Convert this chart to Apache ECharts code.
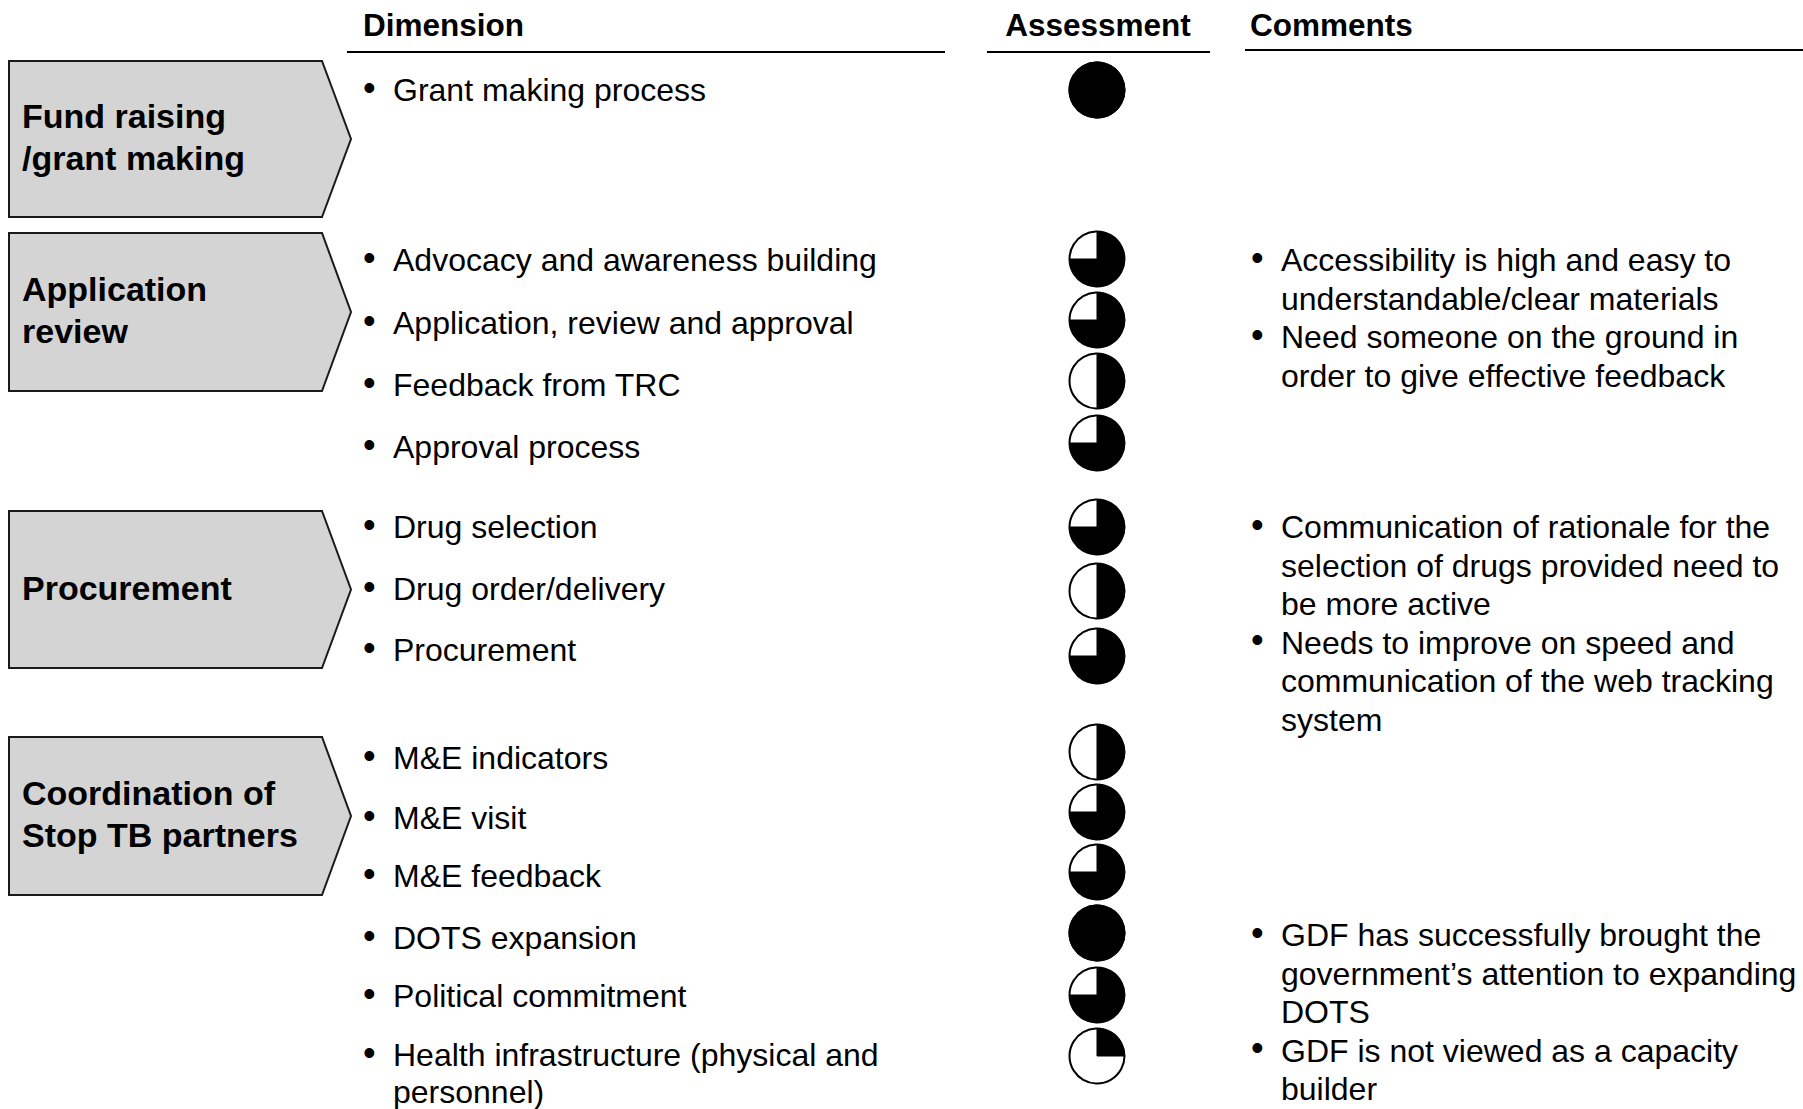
<!DOCTYPE html>
<html><head><meta charset="utf-8">
<script src="https://cdn.jsdelivr.net/npm/echarts@6/dist/echarts.min.js"></script>
<style>html,body{margin:0;padding:0;background:#fff}#c{width:1803px;height:1109px}</style>
</head><body><div id="c"></div>
<script>
// ---------- DATA ----------
const headers = ['Dimension', 'Assessment', 'Comments'];
const groups = ['Fund raising\n/grant making', 'Application\nreview', 'Procurement', 'Coordination of\nStop TB partners'];
const dimensions = [
  'Grant making process',
  'Advocacy and awareness building',
  'Application, review and approval',
  'Feedback from TRC',
  'Approval process',
  'Drug selection',
  'Drug order/delivery',
  'Procurement',
  'M&E indicators',
  'M&E visit',
  'M&E feedback',
  'DOTS expansion',
  'Political commitment',
  'Health infrastructure (physical and\npersonnel)'
];
// Harvey ball fill, in quarters (0..4)
const assessment = [4, 3, 3, 2, 3, 3, 2, 3, 2, 3, 3, 4, 3, 1];
const commentsA = ['Accessibility is high and easy to\nunderstandable/clear materials', 'Need someone on the ground in\norder to give effective feedback'];
const commentsB = ['Communication of rationale for the\nselection of drugs provided need to\nbe more active', 'Needs to improve on speed and\ncommunication of the web tracking\nsystem'];
const commentsC = ['GDF has successfully brought the\ngovernment\u2019s attention to expanding\nDOTS', 'GDF is not viewed as a capacity\nbuilder'];
const commentGroups = [commentsA, commentsB, commentsC];

// ---------- LAYOUT ----------
const W = 1803, H = 1109;
const FONT = '"Liberation Sans", Arial, Helvetica, sans-serif';
const rowY = [90, 260, 323, 385, 447, 527, 589, 650, 758, 818, 876, 938, 996, 1055];
const ballY = [90, 259, 320, 381, 443, 527, 591, 656, 752, 812, 872, 933, 995, 1056];
const boxTB = [[61, 217], [233, 391], [511, 668], [737, 895]];
const box = {x0: 9, x1: 322, tip: 351, labelX: 22};
const dimBulletX = 363, dimTextX = 393;
const ballX = 1097, ballR = 27.5;
const comBulletX = 1251, comTextX = 1281, comLH = 38.5;
const commentStartY = [260, 527, 935];

const chart = echarts.init(document.getElementById('c'), null, {renderer: 'svg', width: W, height: H});

const boxData = groups.map((g, i) => [box.x0, boxTB[i][0], box.x1, boxTB[i][1], box.tip, i]);
const dimData = dimensions.map((d, i) => [dimTextX, rowY[i], i]);
const ballData = assessment.map((v, i) => [ballX, ballY[i], v]);
const comData = [];
commentGroups.forEach((grp, gi) => {
  let line = 0;
  grp.forEach(p => {
    comData.push([comTextX, commentStartY[gi] + line * comLH, p]);
    line += p.split('\n').length;
  });
});

const bullet = (x, y, lh) => ({type: 'text', x: x, y: y - lh / 2 - 3, style: {text: '\u2022', font: '36px ' + FONT, fill: '#000', align: 'left', verticalAlign: 'top', lineHeight: lh}});

chart.setOption({
  animation: false,
  grid: {left: 0, right: 0, top: 0, bottom: 0},
  xAxis: {type: 'value', min: 0, max: W, show: false},
  yAxis: {type: 'value', min: 0, max: H, inverse: true, show: false},
  series: [
    {
      type: 'custom', coordinateSystem: 'cartesian2d', silent: true,
      data: [[363, 25, 0], [1098, 25, 1], [1250, 25, 2]],
      renderItem: (params, api) => {
        const i = api.value(2);
        const p = api.coord([api.value(0), api.value(1)]);
        return {type: 'text', x: p[0], y: p[1], style: {text: headers[i], font: 'bold 31.5px ' + FONT, fill: '#000', align: i === 1 ? 'center' : 'left', verticalAlign: 'middle'}};
      }
    },
    {
      type: 'custom', coordinateSystem: 'cartesian2d', silent: true,
      data: [[347, 52, 945], [987, 52, 1210], [1245, 50, 1803]],
      renderItem: (params, api) => {
        const a = api.coord([api.value(0), api.value(1)]);
        const b = api.coord([api.value(2), api.value(1)]);
        return {type: 'line', shape: {x1: a[0], y1: a[1], x2: b[0], y2: b[1]}, style: {stroke: '#000', lineWidth: 2}};
      }
    },
    {
      type: 'custom', coordinateSystem: 'cartesian2d', silent: true,
      data: boxData,
      renderItem: (params, api) => {
        const tl = api.coord([api.value(0), api.value(1)]);
        const br = api.coord([api.value(2), api.value(3)]);
        const tip = api.coord([api.value(4), (api.value(1) + api.value(3)) / 2]);
        const i = api.value(5);
        return {type: 'group', children: [
          {type: 'polygon', shape: {points: [[tl[0], tl[1]], [br[0], tl[1]], [tip[0], tip[1]], [br[0], br[1]], [tl[0], br[1]]]},
           style: {fill: '#d4d4d4', stroke: '#1a1a1a', lineWidth: 2}},
          {type: 'text', x: box.labelX, y: tip[1] - 2, style: {text: groups[i], font: 'bold 34px ' + FONT, fill: '#000', align: 'left', verticalAlign: 'middle', lineHeight: 42}}
        ]};
      }
    },
    {
      type: 'custom', coordinateSystem: 'cartesian2d', silent: true,
      data: dimData,
      renderItem: (params, api) => {
        const p = api.coord([api.value(0), api.value(1)]);
        const i = api.value(2);
        return {type: 'group', children: [
          bullet(dimBulletX, p[1], 37),
          {type: 'text', x: p[0], y: p[1] - 18.5, style: {text: dimensions[i], font: '32px ' + FONT, fill: '#000', align: 'left', verticalAlign: 'top', lineHeight: 37}}
        ]};
      }
    },
    {
      type: 'custom', coordinateSystem: 'cartesian2d', silent: true,
      data: ballData,
      renderItem: (params, api) => {
        const p = api.coord([api.value(0), api.value(1)]);
        const v = api.value(2);
        const children = [{type: 'circle', shape: {cx: p[0], cy: p[1], r: ballR}, style: {fill: '#fff', stroke: '#000', lineWidth: 2}}];
        if (v >= 4) {
          children.push({type: 'circle', shape: {cx: p[0], cy: p[1], r: ballR}, style: {fill: '#000', stroke: '#000', lineWidth: 2}});
        } else if (v > 0) {
          children.push({type: 'sector', shape: {cx: p[0], cy: p[1], r0: 0, r: ballR, startAngle: -Math.PI / 2, endAngle: -Math.PI / 2 + v * Math.PI / 2, clockwise: true},
            style: {fill: '#000', stroke: '#000', lineWidth: 1}});
        }
        return {type: 'group', children};
      }
    },
    {
      type: 'custom', coordinateSystem: 'cartesian2d', silent: true,
      data: comData,
      renderItem: (params, api) => {
        const p = api.coord([api.value(0), api.value(1)]);
        const txt = comData[params.dataIndex][2];
        return {type: 'group', children: [
          bullet(comBulletX, p[1], comLH),
          {type: 'text', x: p[0], y: p[1] - comLH / 2, style: {text: txt, font: '32px ' + FONT, fill: '#000', align: 'left', verticalAlign: 'top', lineHeight: comLH}}
        ]};
      }
    }
  ]
});
</script></body></html>
